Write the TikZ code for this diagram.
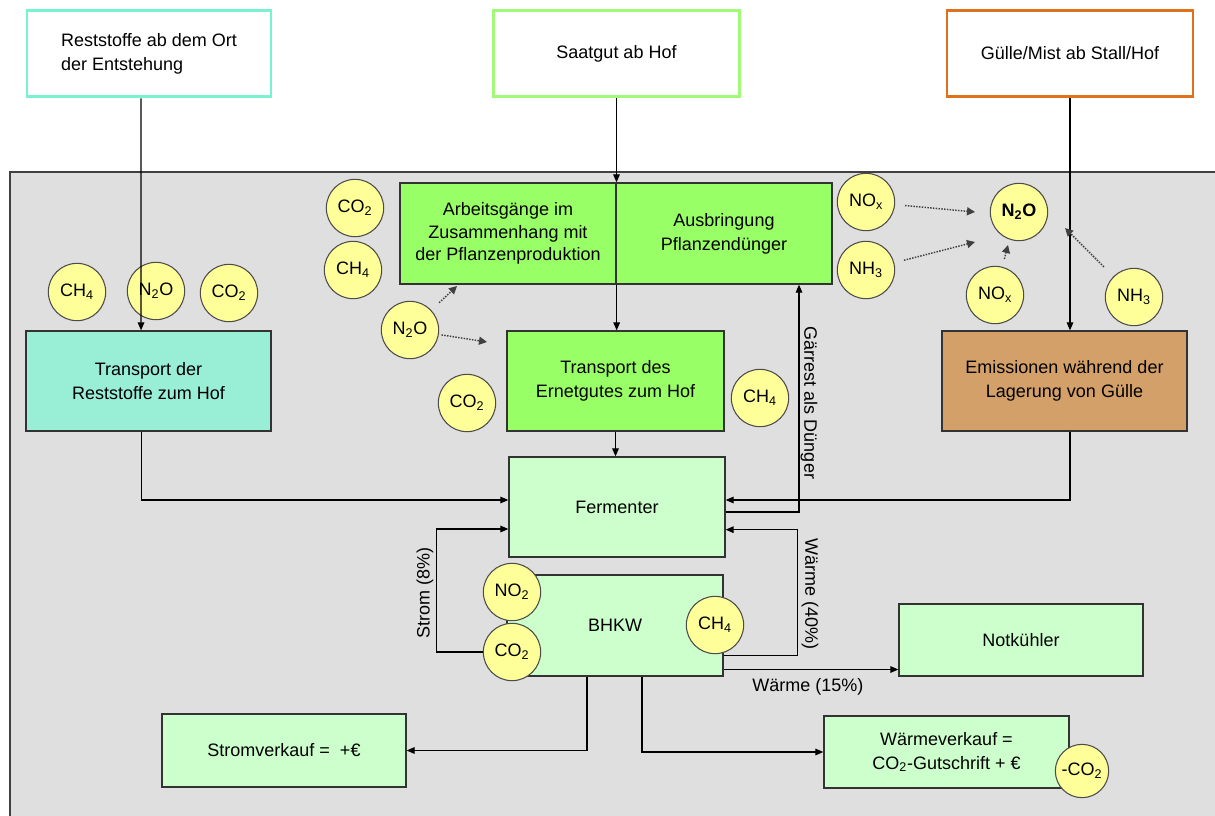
\documentclass[tikz,border=0pt]{standalone}
\usepackage{fontspec}
\setmainfont{Liberation Sans}
\usetikzlibrary{arrows.meta}

\definecolor{panelgray}{RGB}{223,223,223}
\definecolor{restfill}{RGB}{153,238,214}
\definecolor{restline}{RGB}{120,242,208}
\definecolor{plantfill}{RGB}{153,255,102}
\definecolor{plantline}{RGB}{160,250,120}
\definecolor{manurefill}{RGB}{212,160,106}
\definecolor{manureline}{RGB}{222,112,30}
\definecolor{palefill}{RGB}{204,255,204}
\definecolor{gasfill}{RGB}{255,255,153}

\tikzset{
  txt/.style={font=\fontsize{13.5}{18}\selectfont, align=center},
  srcbox/.style={txt, draw, line width=2.2pt, fill=white, minimum width=183pt, minimum height=65pt},
  procbox/.style={txt, draw=black!80, line width=1pt, minimum height=75pt},
  gasball/.style={circle, draw=black!70, line width=0.8pt, fill=gasfill, minimum size=43pt, inner sep=0pt, font=\fontsize{13.5}{16}\selectfont},
  flow/.style={line width=0.8pt, -{Triangle[length=6pt,width=5pt]}},
  emit/.style={line width=1.1pt, densely dotted, black!75, -{Triangle[length=6pt,width=6pt]}},
}

\begin{document}
\begin{tikzpicture}[x=0.75pt,y=0.75pt,yscale=-1,xscale=1]
\useasboundingbox (0,0) rectangle (1215,815);
\fill[white] (0,0) rectangle (1215,815);

%Shape: Rectangle [panel]
\draw[draw=black!75, line width=1.2pt, fill=panelgray] (10,172) rectangle (1230,830);

%Shape: Rectangle [sources]
\node[srcbox, draw=restline, align=left] (srcRest) at (149,53.5) {Reststoffe ab dem Ort\\der Entstehung};
\node[srcbox, draw=plantline, minimum width=185pt] (srcSeed) at (616.5,53.5) {Saatgut ab Hof};
\node[srcbox, draw=manureline, minimum width=184.5pt] (srcDung) at (1070,53.5) {Gülle/Mist ab Stall/Hof};

%Shape: Rectangle [field work]
\node[procbox, fill=plantfill, minimum width=162pt, minimum height=75.75pt, font=\fontsize{13.5}{17}\selectfont] (work) at (508,233.5) {Arbeitsgänge im\\Zusammenhang mit\\der Pflanzenproduktion};
\node[procbox, fill=plantfill, minimum width=162pt, minimum height=75.75pt] (spread) at (724,233.5) {Ausbringung\\Pflanzendünger};

%Shape: Rectangle [transport, storage]
\node[procbox, fill=restfill, minimum width=183.75pt] (moveRest) at (148.5,381) {Transport der\\Reststoffe zum Hof};
\node[procbox, fill=plantfill, minimum width=162.75pt] (moveCrop) at (615.5,381) {Transport des\\Ernetgutes zum Hof};
\node[procbox, fill=manurefill, minimum width=183.75pt] (store) at (1064.5,381) {Emissionen während der\\Lagerung von Gülle};

%Shape: Rectangle [plant]
\node[procbox, fill=palefill, minimum width=162pt] (ferm) at (617,507) {Fermenter};
\node[procbox, fill=palefill, minimum width=162pt, minimum height=75.75pt] (chp) at (615,625.5) {BHKW};
\node[procbox, fill=palefill, minimum width=183pt, minimum height=54pt] (cooler) at (1021,640) {Notkühler};
\node[procbox, fill=palefill, minimum width=183pt, minimum height=54.75pt] (sellPower) at (284,750.5) {Stromverkauf =\ \ +€};
\node[procbox, fill=palefill, minimum width=183.75pt, minimum height=54pt] (sellHeat) at (946.5,752) {Wärmeverkauf =\\CO\textsubscript{2}-Gutschrift + €};

%Shape: Circle [gases]
\node[gasball] (ch4a) at (77,292) {CH\textsubscript{4}};
\node[gasball] (n2oa) at (156,291) {N\textsubscript{2}O};
\node[gasball] (co2a) at (229,293) {CO\textsubscript{2}};
\node[gasball] (co2b) at (355,208) {CO\textsubscript{2}};
\node[gasball] (ch4b) at (353,270) {CH\textsubscript{4}};
\node[gasball] (n2ob) at (410,330) {N\textsubscript{2}O};
\node[gasball] (co2c) at (467,403) {CO\textsubscript{2}};
\node[gasball] (ch4c) at (760,398) {CH\textsubscript{4}};
\node[gasball] (noxa) at (866,202) {NO\textsubscript{x}};
\node[gasball] (nh3a) at (866,270) {NH\textsubscript{3}};
\node[gasball, font=\fontsize{13.5}{16}\selectfont\bfseries] (n2oc) at (1019,212) {N\textsubscript{2}O};
\node[gasball] (noxb) at (995,295) {NO\textsubscript{x}};
\node[gasball] (nh3b) at (1134,297) {NH\textsubscript{3}};
\node[gasball] (no2d) at (512,592) {NO\textsubscript{2}};
\node[gasball] (co2d) at (512,652) {CO\textsubscript{2}};
\node[gasball] (ch4d) at (715,625) {CH\textsubscript{4}};
\node[gasball, minimum size=40pt] (co2e) at (1082,771) {-CO\textsubscript{2}};

%Straight Lines [supply]
\draw[flow] ([xshift=-6pt]srcRest.south) -- ([xshift=-5.6pt]moveRest.north);
\draw[flow] (srcSeed.south) -- (srcSeed.south |- work.north);
\draw[flow] (work.south east) -- (work.south east |- moveCrop.north);
\draw[flow] (srcDung.south) -- (srcDung.south |- store.north);

%Straight Lines [into fermenter]
\draw[flow] (moveCrop.south) -- (moveCrop.south |- ferm.north);
\draw[flow] ([xshift=-5.6pt]moveRest.south) |- ([yshift=-5.25pt]ferm.west);
\draw[flow] (srcDung.south |- store.south) |- ([yshift=-5.25pt]ferm.east);
\draw[flow] ([yshift=3.75pt]ferm.east) -| ([xshift=56.25pt]spread.south);

%Straight Lines [chp loops]
\draw[flow] (co2d.west) -- ++(-46,0) |- ([yshift=16.5pt]ferm.west);
\draw[flow] ([yshift=22.5pt]chp.east) -- ++(74,0) |- ([yshift=17pt]ferm.east);
\draw[flow] ([yshift=33pt]chp.east) coordinate (w15) -- (w15 -| cooler.west);
\draw[flow] ([xshift=-21pt]chp.south) |- (sellPower.east);
\draw[flow] ([xshift=20.25pt]chp.south) |- (sellHeat.west);

%Straight Lines [emission arrows]
\coordinate (tipA) at (457,286);
\coordinate (tipB) at (487,342);
\coordinate (tipC) at (975,212);
\coordinate (tipD) at (975,242);
\coordinate (tipE) at (1008,245);
\coordinate (tipF) at (1065,228);
\draw[emit, shorten <=8pt] (n2ob) -- (tipA);
\draw[emit, shorten <=2pt] (n2ob) -- (tipB);
\draw[emit, shorten <=7.5pt] (noxa) -- (tipC);
\draw[emit, shorten <=7.5pt] (nh3a) -- (tipD);
\draw[emit, shorten <=6pt] (noxb) -- (tipE);
\draw[emit, shorten <=10pt] (nh3b) -- (tipF);

% Text Node
\node[txt, rotate=-90] (lblRest) at (809,403) {Gärrest als Dünger};
% Text Node
\node[txt, rotate=90] (lblPower) at (425,593) {Strom (8\%)};
% Text Node
\node[txt, rotate=-90] (lblHeat) at (810,594) {Wärme (40\%)};
% Text Node
\node[txt] (lblCool) at (808,687) {Wärme (15\%)};

\end{tikzpicture}
\end{document}
